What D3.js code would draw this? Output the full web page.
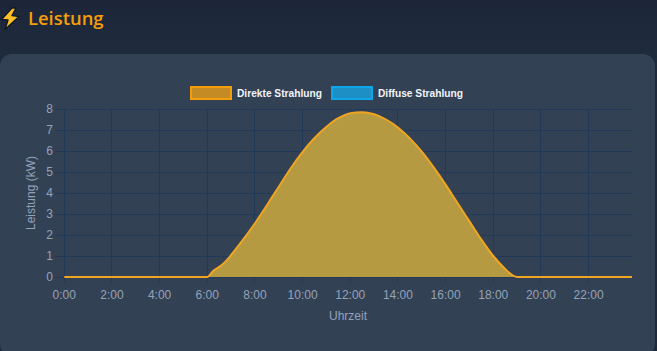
<!DOCTYPE html>
<html lang="de">
<head>
<meta charset="utf-8">
<title>Leistung</title>
<script src="https://d3js.org/d3.v7.min.js"></script>
<style>
  html, body { margin: 0; padding: 0; background: #1e293b; overflow: hidden; }
  svg { display: block; width: 657px; height: 351px; }
  .heading { font-family: "Open Sans", sans-serif; font-size: 18.4px; font-weight: 600; fill: #f59e0b; }
  .tick-label { font-family: "Liberation Sans", Arial, sans-serif; font-size: 12px; fill: #94a3b8; }
  .axis-title { font-family: "Liberation Sans", Arial, sans-serif; font-size: 12px; fill: #94a3b8; }
  .legend-label { font-family: "Liberation Sans", Arial, sans-serif; font-size: 10.2px; font-weight: bold; fill: #f1f5f9; }
</style>
</head>
<body>
<svg width="657" height="351"></svg>
<script>
// hours of day where the curve was read, last one is the end of the axis
const hours = [0, 6, 6.25, 6.5, 6.75, 7, 7.5, 8, 8.5, 9, 9.5, 10, 10.5, 11, 11.5, 12, 12.5, 13, 13.5, 14, 14.5, 15, 15.5, 16, 16.5, 17, 17.5, 18, 18.5, 18.85, 19, 23.82];
// kW
const direct = [0, 0, 0.3, 0.48, 0.72, 1.05, 1.78, 2.56, 3.42, 4.3, 5.18, 5.96, 6.62, 7.15, 7.56, 7.8, 7.85, 7.75, 7.5, 7.12, 6.6, 5.97, 5.22, 4.4, 3.52, 2.65, 1.78, 1.0, 0.38, 0.05, 0, 0];

const hourTicks = [0, 2, 4, 6, 8, 10, 12, 14, 16, 18, 20, 22];
const kwTicks = [0, 1, 2, 3, 4, 5, 6, 7, 8];
const legendNames = ["Direkte Strahlung", "Diffuse Strahlung"];

const svg = d3.select("svg");

const x = d3.scaleLinear().domain([0, 23.82]).range([64.3, 632]);
const y = d3.scaleLinear().domain([0, 8]).range([277, 109]);

// page background and card
const bg = svg.append("defs").append("linearGradient")
  .attr("id", "pageBg").attr("x1", 0).attr("y1", 0).attr("x2", 0).attr("y2", 1);
bg.append("stop").attr("offset", "0%").attr("stop-color", "#1c2638");
bg.append("stop").attr("offset", "100%").attr("stop-color", "#1f2b3e");

svg.append("rect").attr("width", 657).attr("height", 351).attr("fill", "#1e293b");
svg.append("rect").attr("width", 657).attr("height", 60).attr("fill", "url(#pageBg)");
svg.append("rect")
  .attr("x", 0).attr("y", 54).attr("width", 655).attr("height", 302)
  .attr("rx", 12).attr("fill", "#334155");

// heading with bolt icon
svg.append("path")
  .attr("d", "M12 8 L1.5 19.5 L8 20 L5 29.5 L19 16.5 L12 15.5 L16 8 Z")
  .attr("fill", "#fbbf24").attr("stroke", "#111827").attr("stroke-width", 1.4)
  .attr("stroke-linejoin", "round");
svg.append("text").attr("class", "heading").attr("x", 28).attr("y", 25).text("Leistung");

// grid, lines run a little past the axes as ticks
const grid = svg.append("g").attr("stroke", "#22395a").attr("stroke-width", 1);
grid.selectAll("line.h").data(kwTicks).enter().append("line")
  .attr("class", "h")
  .attr("x1", 55).attr("x2", x.range()[1])
  .attr("y1", d => Math.round(y(d)) + 0.5).attr("y2", d => Math.round(y(d)) + 0.5);
grid.selectAll("line.v").data(hourTicks).enter().append("line")
  .attr("class", "v")
  .attr("x1", d => Math.floor(x(d)) + 0.5).attr("x2", d => Math.floor(x(d)) + 0.5)
  .attr("y1", y(8)).attr("y2", y(0) + 5);

// tick labels
svg.selectAll("text.yt").data(kwTicks).enter().append("text")
  .attr("class", "tick-label yt")
  .attr("x", 53).attr("y", d => y(d) + 4)
  .attr("text-anchor", "end")
  .text(d => d);
svg.selectAll("text.xt").data(hourTicks).enter().append("text")
  .attr("class", "tick-label xt")
  .attr("x", d => x(d)).attr("y", 299)
  .attr("text-anchor", "middle")
  .text(d => d + ":00");

svg.append("text").attr("class", "axis-title")
  .attr("x", 348).attr("y", 320).attr("text-anchor", "middle").text("Uhrzeit");
svg.append("text").attr("class", "axis-title")
  .attr("transform", "translate(35,193) rotate(-90)")
  .attr("text-anchor", "middle").text("Leistung (kW)");

// power curve
const points = hours.map((h, i) => [h, direct[i]]);
const area = d3.area().x(d => x(d[0])).y0(y(0)).y1(d => y(d[1])).curve(d3.curveMonotoneX);
const line = d3.line().x(d => x(d[0])).y(d => y(d[1])).curve(d3.curveMonotoneX);

svg.append("path").attr("d", area(points)).attr("fill", "#b59a42");
svg.append("path").attr("d", line(points))
  .attr("fill", "none").attr("stroke", "#f0a521").attr("stroke-width", 2);

// legend
const legendColors = [
  { fill: "#c48a23", stroke: "#f59e0b" },
  { fill: "#1d8fc4", stroke: "#0ea5e9" }
];
const legendX = [191, 332];
const legend = svg.selectAll("g.legend").data(legendNames).enter().append("g")
  .attr("class", "legend")
  .attr("transform", (d, i) => "translate(" + legendX[i] + ",87)");
legend.append("rect")
  .attr("x", 0).attr("y", 0).attr("width", 40).attr("height", 12)
  .attr("fill", (d, i) => legendColors[i].fill)
  .attr("stroke", (d, i) => legendColors[i].stroke)
  .attr("stroke-width", 2);
legend.append("text").attr("class", "legend-label")
  .attr("x", 46).attr("y", 10)
  .text(d => d);
</script>
</body>
</html>
